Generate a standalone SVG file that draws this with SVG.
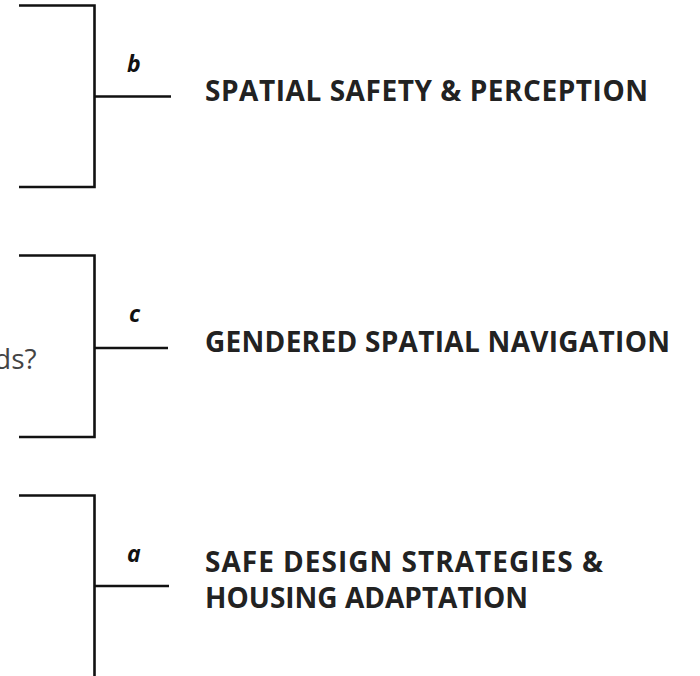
<svg xmlns="http://www.w3.org/2000/svg" width="700" height="676" viewBox="0 0 700 676">
<style>
.br{fill:none;stroke:#111;stroke-width:2.6;stroke-linecap:butt;stroke-linejoin:miter}
.t{font-family:"Open Sans","Noto Sans",sans-serif;font-weight:700;font-size:28px;fill:#222}
.l{font-family:"Open Sans","Noto Sans",sans-serif;font-weight:700;font-style:italic;font-size:23px;fill:#111}
.q{font-family:"Open Sans","Noto Sans",sans-serif;font-size:28px;fill:#444}
</style>
<rect width="700" height="676" fill="#fff"/>
<g id="connectors">
<path class="br" d="M19 5.5H94.5V187H19M94.5 96.5H171"/>
<path class="br" d="M19 255.5H94.5V437H19M94.5 348H168"/>
<path class="br" d="M19 495.5H94.5V676M94.5 586H169"/>
</g>
<g id="node-b">
<text class="l" x="127" y="72">b</text>
<text class="t" x="205" y="100.5" textLength="443" lengthAdjust="spacing">SPATIAL SAFETY &amp; PERCEPTION</text>
</g>
<g id="node-c">
<text class="l" x="129" y="322">c</text>
<text class="q" x="-6" y="369">ds?</text>
<text class="t" x="205" y="352" textLength="465" lengthAdjust="spacing">GENDERED SPATIAL NAVIGATION</text>
</g>
<g id="node-a">
<text class="l" x="127" y="562">a</text>
<text class="t" x="205" y="572" textLength="398" lengthAdjust="spacing">SAFE DESIGN STRATEGIES &amp;</text>
<text class="t" x="205" y="608" textLength="323" lengthAdjust="spacing">HOUSING ADAPTATION</text>
</g>
</svg>
